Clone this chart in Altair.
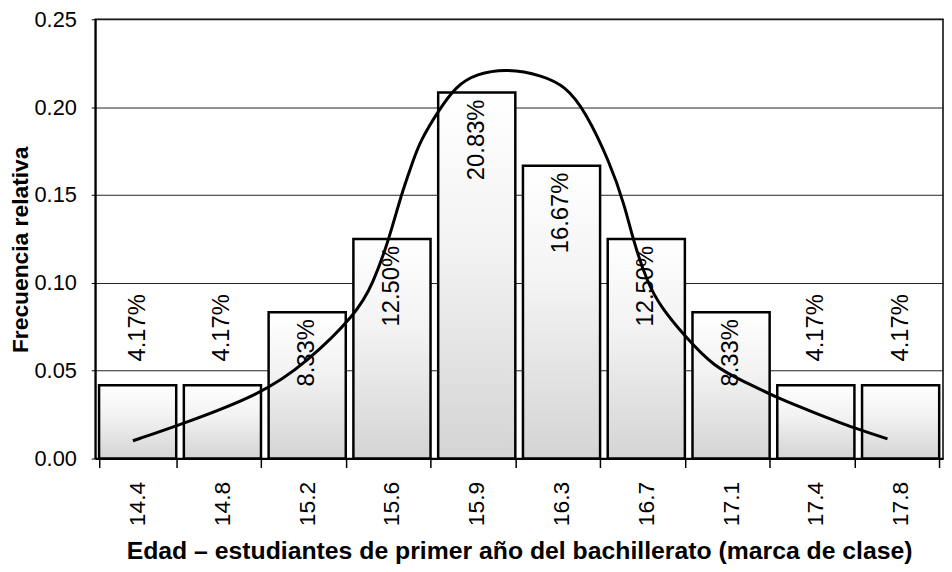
import altair as alt
import pandas as pd

categories = ["14.4", "14.8", "15.2", "15.6", "15.9", "16.3", "16.7", "17.1", "17.4", "17.8"]
rel_freq = [0.0417, 0.0417, 0.0833, 0.1250, 0.2083, 0.1667, 0.1250, 0.0833, 0.0417, 0.0417]
pct_labels = ["4.17%", "4.17%", "8.33%", "12.50%", "20.83%", "16.67%", "12.50%", "8.33%", "4.17%", "4.17%"]

# smooth curve, x in class-index units (class i spans [i, i+1])
curve_pos = [0.444, 1.029, 1.953, 2.491, 3.080, 3.275, 3.470, 3.606, 3.743, 3.825,
             4.047, 4.257, 4.491, 4.865, 5.275, 5.544, 5.778, 6.070, 6.246, 6.343,
             6.518, 6.675, 6.947, 7.298, 7.684, 8.082, 8.468, 8.971, 9.345]
curve_val = [0.0101, 0.0197, 0.0365, 0.0545, 0.0824, 0.0993, 0.1255, 0.1498, 0.1685, 0.180,
             0.198, 0.212, 0.219, 0.222, 0.218, 0.212, 0.198, 0.1685, 0.144, 0.1245,
             0.0993, 0.0861, 0.070, 0.052, 0.0431, 0.0337, 0.0264, 0.0169, 0.0112]

bars_df = pd.DataFrame({"edad": categories, "fr": rel_freq, "label": pct_labels})
curve_df = pd.DataFrame({"pos": curve_pos, "fr": curve_val})

FONT = "Liberation Sans"

xscale = alt.Scale(paddingInner=0.09, paddingOuter=0.045)
yscale = alt.Scale(domain=[0, 0.25], nice=False, zero=True)

x_axis = alt.Axis(
    title="Edad – estudiantes de primer año del bachillerato (marca de clase)",
    labelAngle=-90,
    tickBand="extent",
    tickSize=9,
    tickWidth=1.5,
    tickColor="black",
    domainColor="black",
    domainWidth=2,
    labelPadding=14,
    labelFontSize=23,
    labelFont=FONT,
    labelColor="black",
    titleFont=FONT,
    titleFontSize=25,
    titleFontWeight="bold",
    titleColor="black",
    titleY=101,
    titleBaseline="alphabetic",
    grid=False,
)

y_axis = alt.Axis(
    title="Frecuencia relativa",
    values=[0, 0.05, 0.10, 0.15, 0.20, 0.25],
    format=".2f",
    grid=True,
    gridColor="#222222",
    gridWidth=1,
    tickSize=4,
    tickColor="black",
    domainColor="black",
    domainWidth=2,
    labelPadding=15,
    labelFontSize=22,
    labelFont=FONT,
    labelColor="black",
    titleFont=FONT,
    titleFontSize=23,
    titleFontWeight="bold",
    titleColor="black",
    titleX=-75,
    titleY=232,
    titleBaseline="middle",
)

x_enc = alt.X("edad:N", sort=categories, scale=xscale, axis=x_axis)
y_enc = alt.Y("fr:Q", scale=yscale, axis=y_axis)

bar_fill = alt.Gradient(
    gradient="linear",
    stops=[alt.GradientStop(color="#ffffff", offset=0),
           alt.GradientStop(color="#f3f3f3", offset=0.4),
           alt.GradientStop(color="#d4d4d4", offset=1)],
    x1=0, x2=0, y1=0, y2=1,
)

bars = alt.Chart(bars_df).mark_bar(
    fill=bar_fill, stroke="black", strokeWidth=2.5
).encode(x=x_enc, y=y_enc)

inside = alt.Chart(bars_df).transform_filter("datum.fr >= 0.08").mark_text(
    angle=270, align="right", baseline="middle", dx=-7,
    fontSize=24, font=FONT, color="black"
).encode(x=alt.X("edad:N", sort=categories, scale=xscale), y=alt.Y("fr:Q", scale=yscale), text="label:N")

above = alt.Chart(bars_df).transform_filter("datum.fr < 0.08").mark_text(
    angle=270, align="left", baseline="middle", dx=24,
    fontSize=24, font=FONT, color="black"
).encode(x=alt.X("edad:N", sort=categories, scale=xscale), y=alt.Y("fr:Q", scale=yscale), text="label:N")

curve = alt.Chart(curve_df).mark_line(
    color="black", strokeWidth=3, interpolate="basis"
).encode(
    x=alt.X("pos:Q", scale=alt.Scale(domain=[0, 10], nice=False, zero=False), axis=None),
    y=alt.Y("fr:Q", scale=yscale),
)

bar_group = alt.layer(bars, inside, above)

chart = alt.layer(bar_group, curve).resolve_scale(x="independent").properties(
    width=855,
    height=443,
    autosize=alt.AutoSizeParams(type="none"),
    padding={"left": 88, "top": 9, "right": 1, "bottom": 104},
    background="white",
).configure_view(stroke="black", strokeWidth=1.5)

chart.save("out.html", embed_options={"renderer": "svg", "actions": False})
